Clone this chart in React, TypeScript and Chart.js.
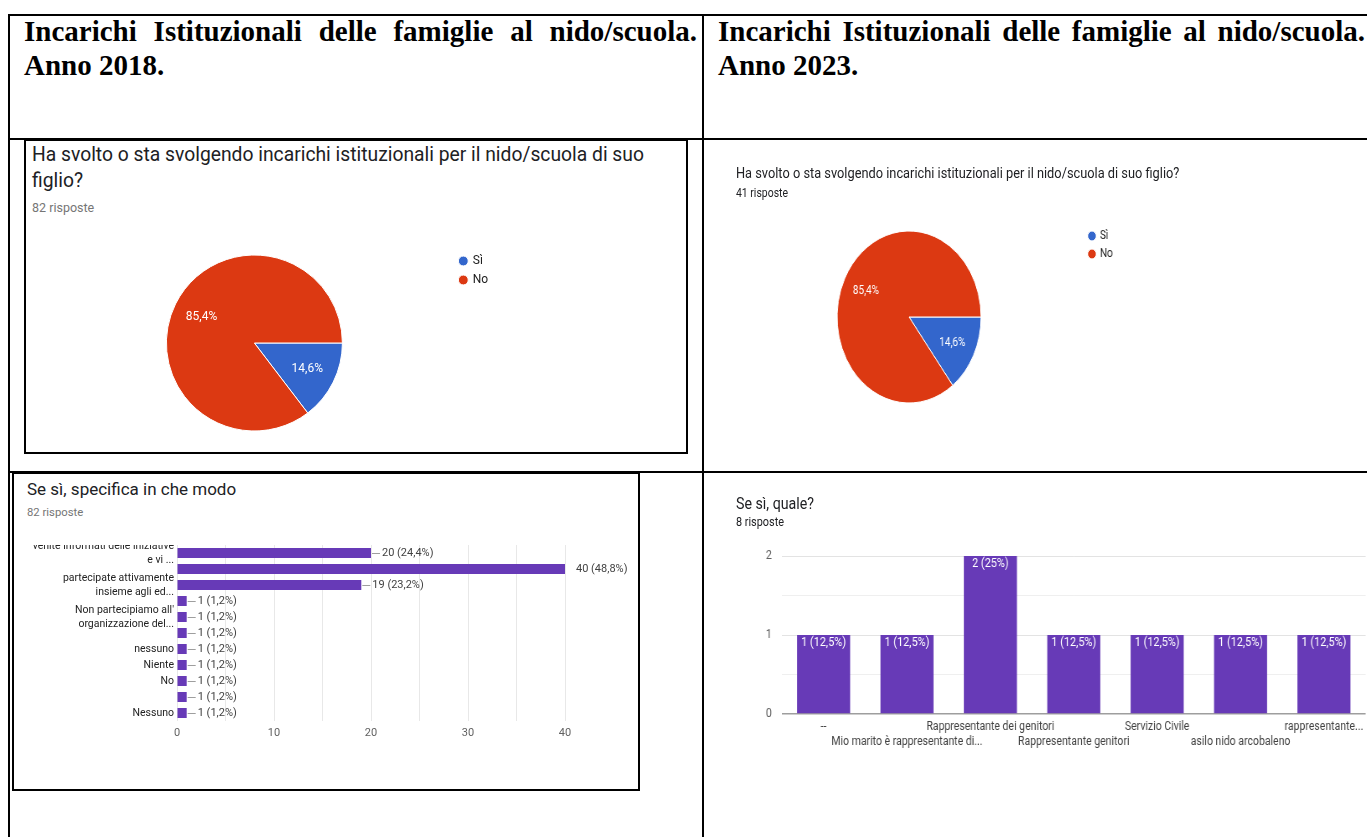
import React, { useEffect, useRef } from 'react';
import { Chart, registerables } from 'chart.js';

Chart.register(...registerables);

const FONT = 'Roboto, Arial, sans-serif';
Chart.defaults.font.family = FONT;

// ---------- DATA ----------
const HEADER_2018 = ['Incarichi Istituzionali delle famiglie al nido/scuola.', 'Anno 2018.'];
const HEADER_2023 = ['Incarichi Istituzionali delle famiglie al nido/scuola.', 'Anno 2023.'];

const PIE_TITLE = 'Ha svolto o sta svolgendo incarichi istituzionali per il nido/scuola di suo figlio?';
const PIE_LABELS = ['Sì', 'No'];
const PIE_2018 = [12, 70];
const PIE_2023 = [6, 35];
const PIE_COLORS = ['#3366cc', '#dc3912'];

const MODE_TITLE = 'Se sì, specifica in che modo';
const MODE_TOTAL = 82;
const MODE_LABELS: (string | string[])[] = [
  ['venite informati delle iniziative', 'e vi ...'],
  '',
  ['partecipate attivamente', 'insieme agli ed...'],
  '',
  ["Non partecipiamo all'", 'organizzazione del...'],
  '',
  'nessuno',
  'Niente',
  'No',
  '',
  'Nessuno',
];
const MODE_VALUES = [20, 40, 19, 1, 1, 1, 1, 1, 1, 1, 1];
const MODE_TICKS = [0, 10, 20, 30, 40];

const QUALE_TITLE = 'Se sì, quale?';
const QUALE_TOTAL = 8;
const QUALE_LABELS = [
  '--',
  'Mio marito è rappresentante di...',
  'Rappresentante dei genitori',
  'Rappresentante genitori',
  'Servizio Civile',
  'asilo nido arcobaleno',
  'rappresentante...',
];
const QUALE_VALUES = [1, 1, 2, 1, 1, 1, 1];

const PURPLE = '#673ab7';
const SX = 0.837; // horizontal squeeze of the 2023 screenshots

function fmtPct(v: number, total: number) {
  const p = Math.round((v / total) * 1000) / 10;
  return String(p).replace('.', ',') + '%';
}

// ---------- PLUGINS ----------
const pieLabelPlugin = {
  id: 'pieLabels',
  afterDatasetsDraw(chart: any, _args: any, opts: any) {
    const ctx = chart.ctx;
    const ds = chart.data.datasets[0];
    const total = ds.data.reduce((a: number, b: number) => a + b, 0);
    const meta = chart.getDatasetMeta(0);
    ctx.save();
    ctx.fillStyle = '#ffffff';
    ctx.font = `${opts.size || 12}px ${FONT}`;
    ctx.textAlign = 'center';
    ctx.textBaseline = 'middle';
    meta.data.forEach((arc: any, i: number) => {
      const { x, y, startAngle, endAngle, outerRadius } = arc.getProps(
        ['x', 'y', 'startAngle', 'endAngle', 'outerRadius'],
        true
      );
      const mid = (startAngle + endAngle) / 2;
      const r = outerRadius * 0.67;
      ctx.fillText(fmtPct(ds.data[i], total), x + Math.cos(mid) * r, y + Math.sin(mid) * r);
    });
    ctx.restore();
  },
};

const hBarLabelPlugin = {
  id: 'hBarLabels',
  afterDatasetsDraw(chart: any) {
    const ctx = chart.ctx;
    const ds = chart.data.datasets[0];
    const meta = chart.getDatasetMeta(0);
    const right = chart.chartArea.right;
    ctx.save();
    ctx.font = `11px ${FONT}`;
    ctx.textBaseline = 'middle';
    ctx.textAlign = 'left';
    meta.data.forEach((bar: any, i: number) => {
      const { x, y } = bar.getProps(['x', 'y'], true);
      if (x < right - 1) {
        ctx.strokeStyle = '#9e9e9e';
        ctx.lineWidth = 1;
        ctx.beginPath();
        ctx.moveTo(x + 1, Math.round(y) + 0.5);
        ctx.lineTo(x + 9, Math.round(y) + 0.5);
        ctx.stroke();
      }
      ctx.fillStyle = '#424242';
      ctx.fillText(`${ds.data[i]} (${fmtPct(ds.data[i], MODE_TOTAL)})`, x + 11, y);
    });
    ctx.restore();
  },
};

const vBarLabelPlugin = {
  id: 'vBarLabels',
  afterDatasetsDraw(chart: any) {
    const ctx = chart.ctx;
    const ds = chart.data.datasets[0];
    const meta = chart.getDatasetMeta(0);
    ctx.save();
    ctx.font = `13px ${FONT}`;
    ctx.textBaseline = 'middle';
    ctx.textAlign = 'center';
    ctx.fillStyle = '#ffffff';
    meta.data.forEach((bar: any, i: number) => {
      const { x, y } = bar.getProps(['x', 'y'], true);
      ctx.fillText(`${ds.data[i]} (${fmtPct(ds.data[i], QUALE_TOTAL)})`, x, y + 8);
    });
    ctx.restore();
  },
};

// ---------- CONFIG BUILDERS ----------
function pieConfig(values: number[], radius: number, legendPad: number, labelSize: number): any {
  return {
    type: 'pie',
    data: {
      labels: PIE_LABELS,
      datasets: [
        {
          data: values,
          backgroundColor: PIE_COLORS,
          borderColor: '#ffffff',
          borderWidth: 1,
          radius,
        },
      ],
    },
    options: {
      responsive: true,
      maintainAspectRatio: false,
      animation: false,
      rotation: 90,
      layout: { padding: 0 },
      plugins: {
        legend: {
          position: 'right',
          align: 'start',
          labels: {
            usePointStyle: true,
            pointStyle: 'circle',
            boxWidth: 7,
            boxHeight: 7,
            padding: legendPad,
            color: '#212121',
            font: { size: 12, family: FONT },
          },
        },
        tooltip: { enabled: false },
        pieLabels: { size: labelSize },
      },
    },
    plugins: [pieLabelPlugin],
  };
}

function modeConfig(): any {
  return {
    type: 'bar',
    data: {
      labels: MODE_LABELS,
      datasets: [
        {
          data: MODE_VALUES,
          backgroundColor: PURPLE,
          barPercentage: 0.625,
          categoryPercentage: 1,
        },
      ],
    },
    options: {
      indexAxis: 'y',
      responsive: true,
      maintainAspectRatio: false,
      animation: false,
      layout: { padding: { top: 20, right: 73, left: 0, bottom: 0 } },
      plugins: { legend: { display: false }, tooltip: { enabled: false } },
      scales: {
        x: {
          min: MODE_TICKS[0],
          max: MODE_TICKS[MODE_TICKS.length - 1],
          ticks: {
            stepSize: 5,
            callback: (v: number) => (MODE_TICKS.includes(v) ? String(v) : ''),
            color: '#616161',
            font: { size: 11 },
            padding: 6,
            maxRotation: 0,
            autoSkip: false,
          },
          grid: { color: '#e8e8e8', drawTicks: false },
          border: { display: false },
          afterFit: (s: any) => {
            s.height = 30;
            s.paddingLeft = 0;
            s.paddingRight = 0;
          },
        },
        y: {
          ticks: {
            color: '#222222',
            font: { size: 10.5, lineHeight: 1.33 },
            padding: 3,
            autoSkip: false,
          },
          grid: { display: false, drawTicks: false },
          border: { display: false },
          afterFit: (s: any) => {
            s.width = 163;
            s.paddingTop = 0;
            s.paddingBottom = 0;
          },
        },
      },
    },
    plugins: [hBarLabelPlugin],
  };
}

function qualeConfig(): any {
  return {
    type: 'bar',
    data: {
      labels: QUALE_LABELS,
      datasets: [
        {
          data: QUALE_VALUES,
          backgroundColor: PURPLE,
          barPercentage: 0.636,
          categoryPercentage: 1,
        },
      ],
    },
    options: {
      responsive: true,
      maintainAspectRatio: false,
      animation: false,
      layout: { padding: { top: 10, right: 10, left: 0, bottom: 0 } },
      plugins: { legend: { display: false }, tooltip: { enabled: false } },
      scales: {
        x: {
          ticks: {
            callback: (_v: any, i: number) => (i % 2 === 1 ? ['', QUALE_LABELS[i]] : QUALE_LABELS[i]),
            color: '#424242',
            font: { size: 12.5, lineHeight: 1.2 },
            padding: 5,
            maxRotation: 0,
            minRotation: 0,
            autoSkip: false,
          },
          grid: { display: false, drawTicks: false },
          border: { display: false },
          afterFit: (s: any) => {
            s.height = 40;
            s.paddingLeft = 0;
            s.paddingRight = 0;
          },
        },
        y: {
          min: 0,
          max: 2,
          ticks: {
            stepSize: 0.5,
            callback: (v: number) => (Number.isInteger(v) ? String(v) : ''),
            color: '#616161',
            font: { size: 13 },
            padding: 12,
          },
          grid: {
            drawTicks: false,
            color: (c: any) =>
              c.tick && c.tick.value === 0 ? '#9e9e9e' : c.tick && Number.isInteger(c.tick.value) ? '#e3e3e3' : '#efefef',
            lineWidth: (c: any) => (c.tick && c.tick.value === 0 ? 1.5 : 1),
          },
          border: { display: false },
          afterFit: (s: any) => {
            s.width = 40;
            s.paddingTop = 0;
            s.paddingBottom = 0;
          },
        },
      },
    },
    plugins: [vBarLabelPlugin],
  };
}

// ---------- COMPONENTS ----------
function ChartCanvas({ make, style }: { make: () => any; style: React.CSSProperties }) {
  const ref = useRef<HTMLCanvasElement>(null);
  useEffect(() => {
    const chart = new Chart(ref.current as HTMLCanvasElement, make());
    return () => chart.destroy();
  }, []);
  return (
    <div style={{ position: 'absolute', ...style }}>
      <canvas ref={ref} />
    </div>
  );
}

function Txt({
  x,
  cy,
  size,
  lh,
  color,
  children,
}: {
  x: number;
  cy: number;
  size: number;
  lh: number;
  color: string;
  children: React.ReactNode;
}) {
  return (
    <div
      style={{
        position: 'absolute',
        left: x,
        top: cy - lh / 2,
        fontFamily: FONT,
        fontSize: size,
        lineHeight: `${lh}px`,
        color,
        whiteSpace: 'nowrap',
      }}
    >
      {children}
    </div>
  );
}

function Line({ x, y, w, h }: { x: number; y: number; w: number; h: number }) {
  return <div style={{ position: 'absolute', left: x, top: y, width: w, height: h, background: '#000' }} />;
}

function Header({ x, width, lines }: { x: number; width: number; lines: string[] }) {
  const base: React.CSSProperties = {
    position: 'absolute',
    left: x,
    width,
    fontFamily: '"Liberation Serif", "Times New Roman", serif',
    fontWeight: 'bold',
    fontSize: 29,
    lineHeight: '29px',
    color: '#000',
  };
  return (
    <>
      <div style={{ ...base, top: 16.7, textAlign: 'justify', textAlignLast: 'justify' }}>{lines[0]}</div>
      <div style={{ ...base, top: 50.7 }}>{lines[1]}</div>
    </>
  );
}

export default function App() {
  return (
    <div
      style={{
        position: 'fixed',
        left: 0,
        top: 0,
        width: 1367,
        height: 837,
        overflow: 'hidden',
        background: '#fff',
      }}
    >
      {/* table grid */}
      <Line x={8} y={14} w={1359} h={2} />
      <Line x={8} y={14} w={2} h={823} />
      <Line x={702} y={14} w={2} h={823} />
      <Line x={8} y={138} w={1359} h={2} />
      <Line x={8} y={471} w={1359} h={2} />

      {/* headers */}
      <Header x={24} width={673} lines={HEADER_2018} />
      <Header x={718} width={647} lines={HEADER_2023} />

      {/* ===== 2018 pie ===== */}
      <div
        style={{
          position: 'absolute',
          left: 24,
          top: 139,
          width: 664,
          height: 315,
          border: '2px solid #000',
          boxSizing: 'border-box',
        }}
      />
      <Txt x={32} cy={155} size={19.3} lh={26} color="#202124">
        Ha svolto o sta svolgendo incarichi istituzionali per il nido/scuola di suo
      </Txt>
      <Txt x={32} cy={181} size={19.3} lh={26} color="#202124">
        figlio?
      </Txt>
      <Txt x={32} cy={208} size={12.5} lh={16} color="#757575">
        {MODE_TOTAL} risposte
      </Txt>
      <ChartCanvas
        make={() => pieConfig(PIE_2018, 88, 7, 12)}
        style={{ left: 55.5, top: 248, width: 442.2, height: 190 }}
      />

      {/* ===== 2018 bars ===== */}
      <div
        style={{
          position: 'absolute',
          left: 12,
          top: 472,
          width: 628,
          height: 319,
          border: '2px solid #000',
          boxSizing: 'border-box',
        }}
      />
      <Txt x={27} cy={489} size={17} lh={22} color="#202124">
        {MODE_TITLE}
      </Txt>
      <Txt x={27} cy={512} size={11.3} lh={15} color="#757575">
        {MODE_TOTAL} risposte
      </Txt>
      <div style={{ position: 'absolute', left: 14, top: 545, width: 624, height: 245, overflow: 'hidden' }}>
        <ChartCanvas make={modeConfig} style={{ left: 0, top: -20, width: 624, height: 226 }} />
      </div>

      {/* ===== 2023 column (screenshots squeezed horizontally) ===== */}
      <div
        style={{
          position: 'absolute',
          left: 704,
          top: 0,
          width: 820,
          height: 837,
          transform: `scaleX(${SX})`,
          transformOrigin: '0 0',
        }}
      >
        <Txt x={38.2} cy={173} size={15.3} lh={20} color="#202124">
          {PIE_TITLE}
        </Txt>
        <Txt x={38.2} cy={193} size={12.5} lh={16} color="#202124">
          41 risposte
        </Txt>
        <ChartCanvas
          make={() => pieConfig(PIE_2023, 86, 6, 12)}
          style={{ left: 35.8, top: 224, width: 462.4, height: 186 }}
        />

        <Txt x={38.2} cy={503} size={17} lh={22} color="#202124">
          {QUALE_TITLE}
        </Txt>
        <Txt x={38.2} cy={522} size={13} lh={16} color="#202124">
          {QUALE_TOTAL} risposte
        </Txt>
        <ChartCanvas make={qualeConfig} style={{ left: 53.2, top: 546, width: 746.5, height: 208 }} />
      </div>
    </div>
  );
}
